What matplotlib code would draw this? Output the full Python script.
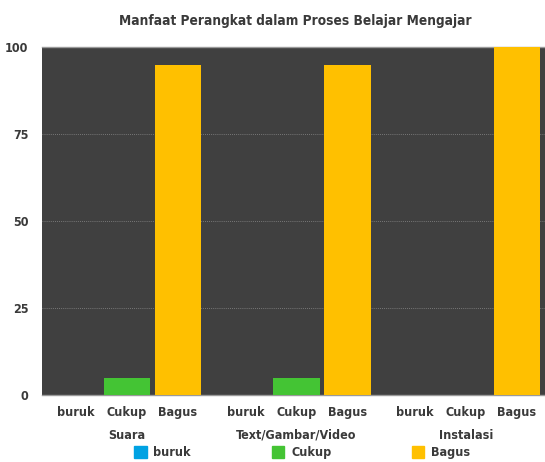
import matplotlib
matplotlib.use("Agg")
import matplotlib.pyplot as plt
import numpy as np
from matplotlib.patches import Patch

categories = ["Suara", "Text/Gambar/Video", "Instalasi"]
series = ["buruk", "Cukup", "Bagus"]
buruk = [0, 0, 0]
cukup = [5, 5, 0]
bagus = [95, 95, 100]
colors = ["#00a2e3", "#44c434", "#ffc000"]
yticks = [0, 25, 50, 75, 100]

fam = ["DejaVu Sans"]
tc = "#3a3a3a"
fp = dict(fontfamily=fam, fontweight="bold", fontstretch="condensed", color=tc)

fig = plt.figure(figsize=(5.45, 4.62), dpi=100)
ax = fig.add_axes([0.0775, 0.145, 0.933, 0.753])
ax.set_facecolor("#404040")

x = np.arange(len(categories))
step = 0.301
width = 0.274
vals = [buruk, cukup, bagus]
for i, (v, c) in enumerate(zip(vals, colors)):
    ax.bar(x + (i - 1) * step, v, width, color=c, zorder=3)

ax.set_xlim(-0.5, 2.5)
ax.set_ylim(0, 100)
ax.set_yticks(yticks)
ax.set_yticklabels([str(t) for t in yticks], fontsize=9, **fp)
ax.tick_params(axis="y", length=0, pad=10)
ax.tick_params(axis="x", length=0)
ax.set_xticks([])
for t in yticks[1:-1]:
    ax.axhline(t, color="#8a8a8a", lw=0.6, ls=(0, (1, 1.5)), zorder=1)

for s in ["left", "right"]:
    ax.spines[s].set_visible(False)
for s in ["top", "bottom"]:
    ax.spines[s].set_color("#9a9a9a")
    ax.spines[s].set_linewidth(1)

trans = ax.get_xaxis_transform()
for ci, cat in enumerate(categories):
    for si, s in enumerate(series):
        ax.text(ci + (si - 1) * step, -0.05, s, transform=trans, ha="center", va="center",
                fontsize=9, **fp)
    ax.text(ci, -0.115, cat, transform=trans, ha="center", va="center",
            fontsize=9, **fp)

fig.text(0.542, 0.955, "Manfaat Perangkat dalam Proses Belajar Mengajar", ha="center", va="center",
         fontsize=9.8, **fp)

handles = [Patch(color=c, label=s) for s, c in zip(series, colors)]
leg = fig.legend(handles=handles, loc="center left", bbox_to_anchor=(0.246, 0.02), ncol=3,
                 frameon=False, handlelength=1.0, handleheight=1.05, columnspacing=6.45,
                 handletextpad=0.55, borderpad=0, borderaxespad=0,
                 prop={"family": fam, "weight": "bold", "size": 9, "stretch": "condensed"})
for t in leg.get_texts():
    t.set_color(tc)

fig.savefig("out.png", dpi=100)
